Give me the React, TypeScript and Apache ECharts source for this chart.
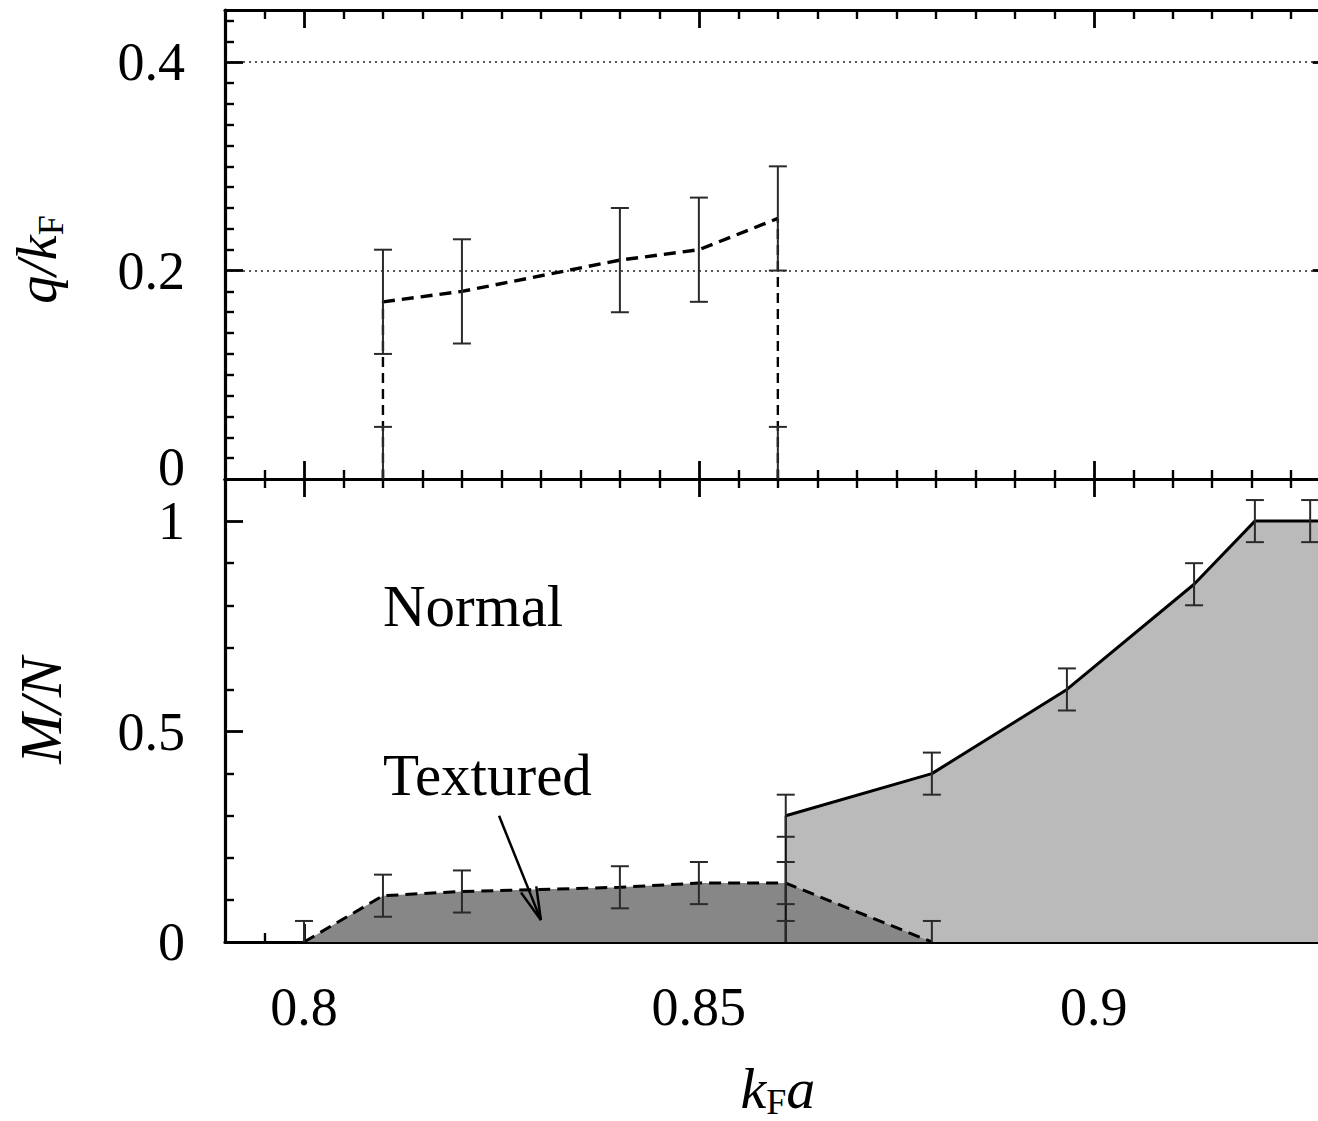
import React, { useEffect, useRef } from 'react';
import * as echarts from 'echarts';

// ---------- axis ranges ----------
const X_MIN = 0.79;
const X_MAX = 0.93;
const Q_MAX = 0.45;
const M_MAX = 1.1;

// ---------- top panel: q / kF ----------
const qX = [0.81, 0.82, 0.84, 0.85, 0.86];
const qY = [0.17, 0.18, 0.21, 0.22, 0.25];
const qErr = [0.05, 0.05, 0.05, 0.05, 0.05];
const qZeroX = [0.81, 0.86];
const qZeroY = [0, 0];
const qZeroErr = [0.05, 0.05];

// ---------- bottom panel: M / N ----------
const texX = [0.8, 0.81, 0.82, 0.84, 0.85, 0.861, 0.8795];
const texY = [0, 0.11, 0.12, 0.13, 0.14, 0.14, 0];
const texErr = [0.05, 0.05, 0.05, 0.05, 0.05, 0.05, 0.05];
const ferroX = [0.861, 0.8795, 0.8966, 0.9127, 0.9204, 0.9274];
const ferroY = [0.3, 0.4, 0.6, 0.85, 1, 1];
const ferroErr = [0.05, 0.05, 0.05, 0.05, 0.05, 0.05];
const mZeroX = [0.861];
const mZeroY = [0];
const mZeroErr = [0.05];

// annotation arrow (data coords of tail and tip)
const ARROW_FROM = [0.8247, 0.3];
const ARROW_TO = [0.83, 0.052];

const FONT = '"Liberation Serif", "DejaVu Serif", serif';

const zip = (xs: number[], ys: number[]) => xs.map((x, i) => [x, ys[i]]);
const errRows = (xs: number[], ys: number[], es: number[]) => xs.map((x, i) => [x, ys[i], es[i]]);

const axisLineStyle = { color: '#000', width: 3.2 };
const tickCfg = { show: true, inside: true, length: 18, lineStyle: { color: '#000', width: 2.8 } };
const minorCfg = (n: number) => ({ show: true, splitNumber: n, length: 9, lineStyle: { color: '#000', width: 2.4 } });

const GRID_LEFT = 225;
const GRID_WIDTH = 1105.7;

function xAxisCfg(grid: number, position: string, labels: boolean) {
  const a: any = {
    type: 'value',
    gridIndex: grid,
    position,
    min: X_MIN,
    max: X_MAX,
    splitNumber: 3,
    minInterval: 0.05,
    maxInterval: 0.05,
    axisLine: { show: true, onZero: false, lineStyle: axisLineStyle },
    axisTick: tickCfg,
    minorTick: minorCfg(10),
    splitLine: { show: false },
    axisLabel: { show: false },
  };
  if (labels) {
    a.axisLabel = {
      show: true,
      showMinLabel: false,
      showMaxLabel: false,
      margin: 38,
      color: '#000',
      fontFamily: FONT,
      fontSize: 54,
      formatter: (v: number) => String(+v.toFixed(3)),
    };
    a.name = '{i|k}{s|F}{i|a}';
    a.nameLocation = 'middle';
    a.nameGap = 114;
    a.nameTextStyle = {
      rich: {
        i: { fontFamily: FONT, fontStyle: 'italic', fontSize: 58, lineHeight: 64, color: '#000' },
        s: { fontFamily: FONT, fontSize: 36, lineHeight: 40, verticalAlign: 'bottom', color: '#000' },
      },
    };
  }
  return a;
}

function yAxisCfg(grid: number, position: string, max: number, interval: number, minorSplit: number, labels: boolean, extra: any = {}) {
  const a: any = {
    type: 'value',
    gridIndex: grid,
    position,
    min: 0,
    max,
    interval,
    axisLine: { show: true, onZero: false, lineStyle: axisLineStyle },
    axisTick: tickCfg,
    minorTick: minorCfg(minorSplit),
    splitLine: { show: false },
    axisLabel: { show: false },
  };
  if (labels) {
    a.axisLabel = {
      show: true,
      showMaxLabel: false,
      margin: 40,
      color: '#000',
      fontFamily: FONT,
      fontSize: 54,
    };
  }
  return Object.assign(a, extra);
}

const errorBarSeries = (xi: number, yi: number, rows: number[][]) => ({
  type: 'custom',
  xAxisIndex: xi,
  yAxisIndex: yi,
  silent: true,
  z: 5,
  data: rows,
  renderItem: (params: any, api: any) => {
    const x = api.value(0);
    const y = api.value(1);
    const e = api.value(2);
    const loV = Math.max(y - e, 0);
    const lo = api.coord([x, loV]);
    const hi = api.coord([x, y + e]);
    const hw = 9;
    const st = { stroke: '#2a2a2a', lineWidth: 2 };
    const children: any[] = [
      { type: 'line', shape: { x1: lo[0], y1: lo[1], x2: hi[0], y2: hi[1] }, style: st },
      { type: 'line', shape: { x1: hi[0] - hw, y1: hi[1], x2: hi[0] + hw, y2: hi[1] }, style: st },
    ];
    if (y - e >= 0) {
      children.push({ type: 'line', shape: { x1: lo[0] - hw, y1: lo[1], x2: lo[0] + hw, y2: lo[1] }, style: st });
    }
    return { type: 'group', children };
  },
});

const lineSeries = (xi: number, yi: number, data: number[][], lineStyle: any, extra: any = {}) => ({
  type: 'line',
  xAxisIndex: xi,
  yAxisIndex: yi,
  data,
  symbol: 'none',
  silent: true,
  lineStyle,
  z: 3,
  ...extra,
});

const labelRich = { fontFamily: FONT, fontSize: 54, color: '#000' };

const option: any = {
  animation: false,
  backgroundColor: '#fff',
  grid: [
    { left: GRID_LEFT, width: GRID_WIDTH, top: 10, height: 469 },
    { left: GRID_LEFT, width: GRID_WIDTH, top: 479, height: 468.3 },
  ],
  xAxis: [
    xAxisCfg(0, 'bottom', false),
    xAxisCfg(0, 'top', false),
    xAxisCfg(1, 'bottom', true),
    xAxisCfg(1, 'top', false),
  ],
  yAxis: [
    yAxisCfg(0, 'left', Q_MAX, 0.2, 10, true, {
      axisLabel: {
        show: true,
        showMaxLabel: false,
        margin: 40,
        formatter: (v: number) => (v === 0 ? '{z|0}' : '{n|' + String(+v.toFixed(3)) + '}'),
        rich: {
          n: labelRich,
          z: { ...labelRich, padding: [0, 0, 24, 0] },
        },
      },
      splitLine: { show: true, showMinLine: false, showMaxLine: false, lineStyle: { color: '#222', width: 1.6, type: [2, 4] } },
      name: '{i|q/k}{s|F}',
      nameLocation: 'middle',
      nameGap: 156,
      nameTextStyle: {
        padding: [0, 30, 0, 0],
        rich: {
          i: { fontFamily: FONT, fontStyle: 'italic', fontSize: 56, lineHeight: 64, color: '#000' },
          s: { fontFamily: FONT, fontSize: 36, lineHeight: 40, verticalAlign: 'bottom', color: '#000' },
        },
      },
    }),
    yAxisCfg(0, 'right', Q_MAX, 0.2, 10, false),
    yAxisCfg(1, 'left', M_MAX, 0.5, 5, true, {
      name: 'M/N',
      nameLocation: 'middle',
      nameGap: 154,
      nameTextStyle: { fontFamily: FONT, fontStyle: 'italic', fontSize: 60, color: '#000' },
    }),
    yAxisCfg(1, 'right', M_MAX, 0.5, 5, false),
  ],
  graphic: [
    { type: 'text', left: 383, top: 576, style: { text: 'Normal', fill: '#000', font: `59px ${FONT}` } },
    { type: 'text', left: 383, top: 745, style: { text: 'Textured', fill: '#000', font: `59px ${FONT}` } },
    { type: 'text', left: 1094, top: 766, style: { text: 'Uniform', fill: '#000', font: `59px ${FONT}` } },
    { type: 'text', left: 1094, top: 830, style: { text: 'ferro', fill: '#000', font: `59px ${FONT}` } },
  ],
  series: [
    // ----- top panel -----
    lineSeries(0, 0, zip(qX, qY), { color: '#000', width: 3.4, type: [12, 7] }),
    lineSeries(0, 0, [[qX[0], 0], [qX[0], qY[0]]], { color: '#000', width: 2.4, type: [10, 6] }),
    lineSeries(0, 0, [[qX[qX.length - 1], 0], [qX[qX.length - 1], qY[qY.length - 1]]], { color: '#000', width: 2.4, type: [10, 6] }),
    errorBarSeries(0, 0, errRows(qX, qY, qErr)),
    errorBarSeries(0, 0, errRows(qZeroX, qZeroY, qZeroErr)),
    // ----- bottom panel -----
    lineSeries(2, 2, [...zip(ferroX, ferroY), [X_MAX, ferroY[ferroY.length - 1]]], { color: '#000', width: 3, type: 'solid' }, {
      areaStyle: { color: '#bababa', opacity: 1 },
      z: 1,
    }),
    lineSeries(2, 2, zip(texX, texY), { color: '#000', width: 3, type: [12, 7] }, {
      areaStyle: { color: '#878787', opacity: 1 },
      z: 2,
    }),
    lineSeries(2, 2, [[ferroX[0], 0], [ferroX[0], ferroY[0]]], { color: '#111', width: 2.2, type: 'solid' }, { z: 3 }),
    errorBarSeries(2, 2, errRows(texX, texY, texErr)),
    errorBarSeries(2, 2, errRows(ferroX, ferroY, ferroErr)),
    errorBarSeries(2, 2, errRows(mZeroX, mZeroY, mZeroErr)),
    {
      type: 'custom',
      xAxisIndex: 2,
      yAxisIndex: 2,
      silent: true,
      z: 6,
      data: [[ARROW_FROM[0], ARROW_FROM[1], ARROW_TO[0], ARROW_TO[1]]],
      renderItem: (params: any, api: any) => {
        const p0 = api.coord([api.value(0), api.value(1)]);
        const p1 = api.coord([api.value(2), api.value(3)]);
        const dx = p0[0] - p1[0];
        const dy = p0[1] - p1[1];
        const len = Math.hypot(dx, dy);
        const ux = dx / len;
        const uy = dy / len;
        const hl = 34;
        const ang = (14 * Math.PI) / 180;
        const rot = (a: number) => [ux * Math.cos(a) - uy * Math.sin(a), ux * Math.sin(a) + uy * Math.cos(a)];
        const b1 = rot(ang);
        const b2 = rot(-ang);
        const st = { stroke: '#000', lineWidth: 2.5 };
        return {
          type: 'group',
          children: [
            { type: 'line', shape: { x1: p0[0], y1: p0[1], x2: p1[0], y2: p1[1] }, style: st },
            { type: 'line', shape: { x1: p1[0], y1: p1[1], x2: p1[0] + b1[0] * hl, y2: p1[1] + b1[1] * hl }, style: st },
            { type: 'line', shape: { x1: p1[0], y1: p1[1], x2: p1[0] + b2[0] * hl, y2: p1[1] + b2[1] * hl }, style: st },
          ],
        };
      },
    },
  ],
};

export default function App() {
  const ref = useRef<HTMLDivElement>(null);
  useEffect(() => {
    const chart = echarts.init(ref.current as HTMLDivElement, null, { renderer: 'svg' });
    chart.setOption(option);
    return () => chart.dispose();
  }, []);
  return (
    <div style={{ position: 'fixed', left: 0, top: 0, width: 1318, height: 1121, overflow: 'hidden', background: '#fff' }}>
      <div ref={ref} style={{ width: 1360, height: 1121 }} />
    </div>
  );
}
